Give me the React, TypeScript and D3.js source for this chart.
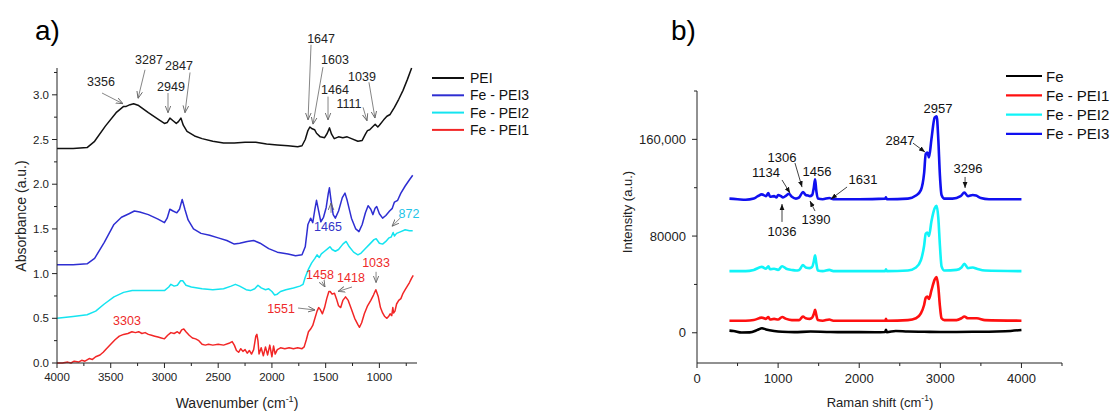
import * as d3 from "d3";

type Pt = [number, number];

// ---- panel a: FTIR (wavenumber cm-1, absorbance) ----
const FTIR_PEI: Pt[] = [
  [4000, 2.4], [3850, 2.4], [3720, 2.41], [3650, 2.48], [3550, 2.65], [3450, 2.8], [3380, 2.87], [3356, 2.87],
  [3320, 2.89], [3287, 2.9], [3240, 2.88], [3150, 2.8], [3050, 2.72], [3000, 2.68], [2975, 2.69], [2949, 2.74],
  [2920, 2.71], [2890, 2.68], [2870, 2.7], [2847, 2.74], [2825, 2.66], [2790, 2.59], [2720, 2.54], [2650, 2.51],
  [2550, 2.48], [2450, 2.46], [2350, 2.46], [2250, 2.47], [2150, 2.47], [2050, 2.45], [1950, 2.44], [1850, 2.43],
  [1760, 2.42], [1720, 2.43], [1690, 2.5], [1665, 2.6], [1647, 2.64], [1625, 2.62], [1603, 2.61], [1585, 2.57],
  [1550, 2.53], [1510, 2.52], [1485, 2.57], [1464, 2.63], [1445, 2.56], [1420, 2.51], [1380, 2.53], [1340, 2.52],
  [1300, 2.53], [1260, 2.51], [1200, 2.48], [1160, 2.49], [1130, 2.56], [1111, 2.6], [1090, 2.61], [1065, 2.64],
  [1039, 2.67], [1015, 2.64], [1000, 2.66], [960, 2.72], [930, 2.76], [900, 2.78], [860, 2.86], [820, 2.95],
  [780, 3.05], [740, 3.17], [700, 3.3],
];

const FTIR_PEI3: Pt[] = [
  [4000, 1.1], [3850, 1.1], [3720, 1.11], [3650, 1.17], [3560, 1.35], [3470, 1.55], [3400, 1.63], [3330, 1.67],
  [3280, 1.7], [3230, 1.69], [3150, 1.66], [3060, 1.61], [3000, 1.57], [2975, 1.62], [2950, 1.72], [2920, 1.7],
  [2885, 1.68], [2860, 1.72], [2835, 1.83], [2810, 1.72], [2780, 1.6], [2730, 1.5], [2660, 1.45], [2580, 1.43],
  [2500, 1.4], [2420, 1.37], [2350, 1.33], [2300, 1.34], [2230, 1.36], [2170, 1.37], [2110, 1.34], [2030, 1.28],
  [1950, 1.24], [1850, 1.22], [1780, 1.2], [1720, 1.21], [1690, 1.3], [1665, 1.55], [1640, 1.62], [1620, 1.57],
  [1600, 1.72], [1585, 1.82], [1565, 1.7], [1545, 1.58], [1520, 1.63], [1495, 1.74], [1475, 1.9], [1465, 1.96],
  [1450, 1.82], [1430, 1.66], [1410, 1.62], [1380, 1.7], [1345, 1.85], [1320, 1.9], [1300, 1.82], [1260, 1.62],
  [1220, 1.5], [1190, 1.47], [1160, 1.55], [1130, 1.68], [1105, 1.76], [1080, 1.72], [1060, 1.66], [1040, 1.73],
  [1025, 1.75], [1000, 1.67], [970, 1.62], [940, 1.65], [905, 1.7], [880, 1.73], [860, 1.8], [830, 1.82],
  [800, 1.9], [760, 1.98], [720, 2.05], [690, 2.1],
];

const FTIR_PEI2: Pt[] = [
  [4000, 0.5], [3850, 0.52], [3720, 0.54], [3640, 0.58], [3560, 0.66], [3470, 0.74], [3380, 0.79], [3300, 0.81],
  [3150, 0.81], [3050, 0.81], [3000, 0.81], [2960, 0.85], [2940, 0.88], [2910, 0.86], [2880, 0.87], [2850, 0.92],
  [2830, 0.92], [2800, 0.87], [2750, 0.85], [2650, 0.83], [2550, 0.82], [2450, 0.83], [2380, 0.86], [2340, 0.88],
  [2300, 0.86], [2240, 0.82], [2200, 0.81], [2160, 0.83], [2130, 0.87], [2100, 0.84], [2060, 0.82], [2030, 0.83],
  [2000, 0.8], [1975, 0.76], [1950, 0.77], [1920, 0.8], [1870, 0.82], [1800, 0.84], [1740, 0.86], [1710, 0.88],
  [1690, 0.96], [1660, 1.05], [1630, 1.12], [1600, 1.17], [1580, 1.21], [1560, 1.18], [1540, 1.22], [1510, 1.25],
  [1480, 1.28], [1460, 1.3], [1440, 1.27], [1410, 1.25], [1380, 1.27], [1340, 1.33], [1310, 1.36], [1280, 1.3],
  [1240, 1.24], [1200, 1.21], [1170, 1.23], [1130, 1.28], [1090, 1.33], [1050, 1.38], [1030, 1.39], [1000, 1.34],
  [970, 1.33], [940, 1.36], [910, 1.4], [890, 1.41], [872, 1.46], [860, 1.42], [840, 1.45], [800, 1.47],
  [760, 1.49], [720, 1.48], [690, 1.48],
];

const FTIR_PEI1: Pt[] = [
  [4000, 0.0], [3950, 0.0], [3900, 0.01], [3870, 0.0], [3840, 0.02], [3800, 0.01], [3770, 0.03], [3740, 0.02],
  [3700, 0.05], [3670, 0.04], [3640, 0.07], [3600, 0.09], [3570, 0.12], [3540, 0.16], [3500, 0.21], [3460, 0.26],
  [3420, 0.3], [3380, 0.32], [3340, 0.33], [3303, 0.35], [3270, 0.34], [3240, 0.35], [3210, 0.33], [3180, 0.34],
  [3150, 0.32], [3120, 0.31], [3090, 0.3], [3060, 0.29], [3030, 0.28], [3000, 0.27], [2970, 0.31], [2940, 0.34],
  [2910, 0.33], [2880, 0.35], [2860, 0.33], [2840, 0.37], [2820, 0.38], [2800, 0.35], [2770, 0.31], [2740, 0.28],
  [2710, 0.27], [2680, 0.25], [2650, 0.21], [2620, 0.2], [2590, 0.21], [2550, 0.2], [2500, 0.21], [2450, 0.2],
  [2400, 0.22], [2370, 0.24], [2350, 0.2], [2330, 0.14], [2310, 0.12], [2290, 0.16], [2270, 0.13], [2250, 0.15],
  [2230, 0.11], [2210, 0.14], [2190, 0.1], [2170, 0.15], [2150, 0.3], [2140, 0.32], [2130, 0.25], [2120, 0.1],
  [2100, 0.17], [2080, 0.08], [2060, 0.18], [2040, 0.09], [2020, 0.2], [2000, 0.07], [1985, 0.19], [1970, 0.1],
  [1950, 0.15], [1920, 0.17], [1880, 0.16], [1840, 0.17], [1800, 0.16], [1760, 0.17], [1720, 0.16], [1700, 0.18],
  [1680, 0.26], [1660, 0.35], [1640, 0.38], [1620, 0.42], [1600, 0.5], [1580, 0.58], [1565, 0.62], [1551, 0.6],
  [1530, 0.55], [1510, 0.62], [1490, 0.72], [1470, 0.8], [1458, 0.8], [1440, 0.77], [1418, 0.78], [1400, 0.72],
  [1380, 0.64], [1360, 0.62], [1340, 0.7], [1315, 0.74], [1290, 0.7], [1260, 0.6], [1230, 0.5], [1200, 0.43],
  [1185, 0.4], [1165, 0.45], [1140, 0.55], [1110, 0.64], [1080, 0.7], [1055, 0.76], [1033, 0.82], [1010, 0.74],
  [990, 0.62], [970, 0.56], [950, 0.52], [930, 0.5], [915, 0.52], [900, 0.55], [885, 0.53], [875, 0.62],
  [868, 0.56], [855, 0.58], [840, 0.66], [820, 0.7], [800, 0.72], [780, 0.78], [760, 0.82], [740, 0.86],
  [720, 0.9], [700, 0.95], [685, 0.98],
];

const FTIR_SERIES = [
  { name: "PEI", color: "#111111", data: FTIR_PEI },
  { name: "Fe - PEI3", color: "#2e2ed2", data: FTIR_PEI3 },
  { name: "Fe - PEI2", color: "#14e4f0", data: FTIR_PEI2 },
  { name: "Fe - PEI1", color: "#f22626", data: FTIR_PEI1 },
];

// label text at a data point, optional arrow from -> to (data coords)
type Note = { text: string; at: Pt; color: string; from?: Pt; to?: Pt };
const FTIR_NOTES: Note[] = [
  { text: "3356", at: [3591, 3.14], color: "#222", from: [3581, 3.02], to: [3386, 2.9] },
  { text: "3287", at: [3144, 3.39], color: "#222", from: [3181, 3.28], to: [3246, 2.96] },
  { text: "2949", at: [2939, 3.09], color: "#222", from: [2967, 3.02], to: [2967, 2.8] },
  { text: "2847", at: [2865, 3.32], color: "#222", from: [2762, 3.25], to: [2809, 2.8] },
  { text: "1647", at: [1543, 3.62], color: "#222", from: [1636, 3.56], to: [1664, 2.72] },
  { text: "1603", at: [1413, 3.39], color: "#222", from: [1525, 3.31], to: [1618, 2.67] },
  { text: "1464", at: [1413, 3.05], color: "#222", from: [1478, 2.98], to: [1478, 2.72] },
  { text: "1111", at: [1283, 2.9], color: "#222", from: [1152, 2.86], to: [1115, 2.71] },
  { text: "1039", at: [1162, 3.2], color: "#222", from: [1097, 3.14], to: [1041, 2.74] },
  { text: "1465", at: [1478, 1.52], color: "#3535c8", from: [1450, 1.68], to: [1450, 1.79] },
  { text: "872", at: [724, 1.67], color: "#22c4e8", from: [808, 1.62], to: [882, 1.53] },
  { text: "1458", at: [1553, 0.98], color: "#ee2a2a", from: [1534, 0.91], to: [1506, 0.85] },
  { text: "1418", at: [1264, 0.95], color: "#ee2a2a", from: [1255, 0.85], to: [1385, 0.8] },
  { text: "1033", at: [1031, 1.12], color: "#ee2a2a", from: [1031, 1.02], to: [1031, 0.9] },
  { text: "1551", at: [1915, 0.6], color: "#ee2a2a", from: [1757, 0.615], to: [1599, 0.593] },
  { text: "3303", at: [3349, 0.47], color: "#ee2a2a" },
];

const FTIR_X_MAJOR = [4000, 3500, 3000, 2500, 2000, 1500, 1000];
const FTIR_X_MINOR = [3750, 3250, 2750, 2250, 1750, 1250, 750];
const FTIR_Y_MAJOR = [0, 0.5, 1, 1.5, 2, 2.5, 3];
const FTIR_Y_MINOR = [0.25, 0.75, 1.25, 1.75, 2.25, 2.75, 3.25];

// ---- panel b: Raman (shift cm-1, intensity) ----
const RAMAN_FE: Pt[] = [
  [400, 1800], [450, 1500], [550, 200], [650, 300], [750, 2500], [800, 3800], [850, 2800], [950, 1500],
  [1050, 800], [1200, 500], [1400, 1000], [1600, 700], [1800, 500], [2000, 500], [2200, 400], [2320, 600],
  [2330, 2500], [2340, 500], [2450, 1500], [2600, 1000], [2800, 800], [3000, 600], [3200, 700], [3400, 800],
  [3600, 800], [3800, 1200], [4000, 2300],
];

const RAMAN_PEI1: Pt[] = [
  [400, 10000], [600, 10000], [700, 10500], [800, 12500], [850, 11500], [880, 13000], [900, 11000], [950, 11500],
  [1000, 11000], [1050, 13000], [1100, 11500], [1170, 10500], [1260, 10500], [1306, 13500], [1340, 12000],
  [1390, 11500], [1420, 12500], [1440, 15500], [1456, 19000], [1470, 15000], [1490, 10500], [1550, 10000],
  [1631, 11000], [1680, 10000], [2000, 10000], [2320, 10000], [2330, 11500], [2340, 10000], [2600, 10500],
  [2700, 12000], [2760, 16000], [2800, 23000], [2820, 29000], [2840, 30000], [2860, 28000], [2890, 35000],
  [2930, 44000], [2955, 46000], [2975, 38000], [2995, 22000], [3015, 12000], [3050, 10500], [3200, 10500],
  [3260, 12000], [3296, 13500], [3340, 12000], [3450, 12000], [3550, 10500], [4000, 10000],
];

const RAMAN_PEI2: Pt[] = [
  [400, 51000], [600, 51000], [700, 52000], [800, 54500], [850, 53000], [880, 55000], [900, 52500], [950, 53000],
  [1000, 52000], [1050, 55000], [1100, 53000], [1170, 52000], [1220, 51500], [1260, 52000], [1306, 56000],
  [1340, 54000], [1390, 53500], [1420, 54500], [1440, 59000], [1456, 64000], [1470, 58000], [1490, 51500],
  [1550, 51000], [1631, 52000], [1680, 51000], [2000, 51000], [2320, 51000], [2330, 52500], [2340, 51000],
  [2600, 51500], [2700, 54000], [2760, 60000], [2800, 72000], [2820, 82000], [2840, 83000], [2860, 80000],
  [2890, 92000], [2930, 103000], [2955, 105000], [2975, 95000], [2995, 72000], [3015, 55000], [3050, 51500],
  [3200, 52000], [3260, 54000], [3296, 57000], [3340, 53500], [3400, 54000], [3450, 53000], [3550, 51500],
  [4000, 51000],
];

const RAMAN_PEI3: Pt[] = [
  [400, 111000], [500, 110500], [600, 110000], [700, 111000], [750, 113000], [800, 114500], [850, 113000],
  [880, 115500], [900, 112500], [950, 113000], [980, 112000], [1000, 114000], [1036, 113000], [1060, 112000],
  [1100, 113500], [1134, 115000], [1170, 112500], [1220, 111000], [1260, 112000], [1306, 116500], [1340, 114000],
  [1370, 113500], [1390, 113000], [1420, 114000], [1440, 120000], [1456, 127000], [1470, 118000], [1490, 111000],
  [1550, 110500], [1631, 111500], [1680, 110500], [2000, 110500], [2320, 111000], [2330, 112000], [2340, 110500],
  [2600, 111000], [2700, 113500], [2760, 118000], [2800, 132000], [2820, 148000], [2840, 149000], [2860, 145000],
  [2890, 160000], [2930, 178000], [2955, 179000], [2975, 160000], [2995, 130000], [3015, 114000], [3050, 111000],
  [3150, 111000], [3250, 113000], [3296, 116000], [3340, 113000], [3400, 114000], [3440, 113500], [3500, 111500],
  [3600, 110500], [4000, 110500],
];

const RAMAN_SERIES = [
  { name: "Fe", color: "#000000", data: RAMAN_FE },
  { name: "Fe - PEI1", color: "#ff1010", data: RAMAN_PEI1 },
  { name: "Fe - PEI2", color: "#10f4f8", data: RAMAN_PEI2 },
  { name: "Fe - PEI3", color: "#1010f0", data: RAMAN_PEI3 },
];

const RAMAN_NOTES: Note[] = [
  { text: "1134", at: [851, 132200], color: "#111", from: [1048, 126400], to: [1147, 115600] },
  { text: "1306", at: [1048, 145400], color: "#111", from: [1208, 140400], to: [1295, 120500] },
  { text: "1456", at: [1480, 133000], color: "#111" },
  { text: "1036", at: [1048, 83400], color: "#111", from: [1048, 91700], to: [1048, 106500] },
  { text: "1390", at: [1467, 94100], color: "#111", from: [1455, 100700], to: [1393, 109000] },
  { text: "1631", at: [2047, 127200], color: "#111", from: [1850, 120600], to: [1652, 110700] },
  { text: "2847", at: [2503, 159400], color: "#111", from: [2663, 156900], to: [2811, 149500] },
  { text: "2957", at: [2972, 185900], color: "#111" },
  { text: "3296", at: [3342, 135500], color: "#111", from: [3305, 128900], to: [3305, 119800] },
];

const RAMAN_X_MAJOR = [0, 1000, 2000, 3000, 4000];
const RAMAN_X_MINOR = [500, 1500, 2500, 3500, 4500];
const RAMAN_Y_MAJOR = [0, 80000, 160000];
const RAMAN_Y_LABELS = ["0", "80000", "160,000"];
const RAMAN_Y_MINOR = [40000, 120000, 200000];

const FONT = "'Liberation Sans', Arial, sans-serif";

function Notes({ notes, x, y, marker, size }: {
  notes: Note[]; x: d3.ScaleLinear<number, number>; y: d3.ScaleLinear<number, number>; marker: string; size: number;
}) {
  return (
    <g fontFamily={FONT} fontSize={size}>
      {notes.map((n) => (
        <g key={n.text + n.at[0]}>
          <text x={x(n.at[0])} y={y(n.at[1])} fill={n.color} textAnchor="middle" dominantBaseline="central">
            {n.text}
          </text>
          {n.from && n.to && (
            <line
              x1={x(n.from[0])} y1={y(n.from[1])} x2={x(n.to[0])} y2={y(n.to[1])}
              stroke={marker === "arrA" ? "#666" : "#111"} strokeWidth={0.8} markerEnd={`url(#${marker})`}
            />
          )}
        </g>
      ))}
    </g>
  );
}

function FtirPanel() {
  const x = d3.scaleLinear().domain([4000, 650]).range([57, 417]);
  const y = d3.scaleLinear().domain([0, 3.3]).range([363, 68]);
  const line = d3.line<Pt>().x((d) => x(d[0])).y((d) => y(d[1]));
  const [x0, x1] = x.range();
  const [y0, y1] = y.range();
  return (
    <g>
      <text x={35} y={40} fontFamily={FONT} fontSize={28}>a)</text>
      {FTIR_SERIES.map((s) => (
        <path key={s.name} d={line(s.data) ?? ""} fill="none" stroke={s.color} strokeWidth={1.5} strokeLinejoin="round" />
      ))}
      <g stroke="#222" strokeWidth={1}>
        <line x1={x0} x2={x1} y1={y0} y2={y0} />
        <line x1={x0} x2={x0} y1={y0} y2={y1} />
        {FTIR_X_MAJOR.map((t) => <line key={t} x1={x(t)} x2={x(t)} y1={y0} y2={y0 + 5} />)}
        {FTIR_X_MINOR.map((t) => <line key={t} x1={x(t)} x2={x(t)} y1={y0} y2={y0 + 3} />)}
        {FTIR_Y_MAJOR.map((t) => <line key={t} x1={x0 - 5} x2={x0} y1={y(t)} y2={y(t)} />)}
        {FTIR_Y_MINOR.map((t) => <line key={t} x1={x0 - 3} x2={x0} y1={y(t)} y2={y(t)} />)}
      </g>
      <g fontFamily={FONT} fontSize={11.5} fill="#222">
        {FTIR_X_MAJOR.map((t) => (
          <text key={t} x={x(t)} y={y0 + 18} textAnchor="middle">{t}</text>
        ))}
        {FTIR_Y_MAJOR.map((t) => (
          <text key={t} x={x0 - 8} y={y(t)} textAnchor="end" dominantBaseline="central">{d3.format(".1f")(t)}</text>
        ))}
      </g>
      <text x={(x0 + x1) / 2} y={408} textAnchor="middle" fontFamily={FONT} fontSize={14} fill="#222">
        Wavenumber (cm<tspan dy={-6} fontSize={9}>-1</tspan><tspan dy={6}>)</tspan>
      </text>
      <text transform={`translate(21,216) rotate(-90)`} textAnchor="middle" dominantBaseline="central"
        fontFamily={FONT} fontSize={14} fill="#222">Absorbance (a.u.)</text>
      <Notes notes={FTIR_NOTES} x={x} y={y} marker="arrA" size={12.5} />
      <g fontFamily={FONT} fontSize={14}>
        {FTIR_SERIES.map((s, i) => (
          <g key={s.name} transform={`translate(432,${78 + i * 17.3})`}>
            <line x1={0} x2={32} y1={0} y2={0} stroke={s.color} strokeWidth={2} />
            <text x={38} y={0} dominantBaseline="central" fill="#111">{s.name}</text>
          </g>
        ))}
      </g>
    </g>
  );
}

function RamanPanel() {
  const x = d3.scaleLinear().domain([0, 4500]).range([697, 1062]);
  const y = d3.scaleLinear().domain([-25000, 200000]).range([363, 91]);
  const line = d3.line<Pt>().x((d) => x(d[0])).y((d) => y(d[1])).curve(d3.curveMonotoneX);
  const [x0, x1] = x.range();
  const [y0, y1] = y.range();
  return (
    <g>
      <text x={671} y={40} fontFamily={FONT} fontSize={28}>b)</text>
      {RAMAN_SERIES.map((s) => (
        <path key={s.name} d={line(s.data) ?? ""} fill="none" stroke={s.color} strokeWidth={2.6} strokeLinejoin="round" />
      ))}
      <g stroke="#222" strokeWidth={1}>
        <line x1={x0} x2={x1} y1={y0} y2={y0} />
        <line x1={x0} x2={x0} y1={y0} y2={y1} />
        {RAMAN_X_MAJOR.map((t) => <line key={t} x1={x(t)} x2={x(t)} y1={y0} y2={y0 + 5} />)}
        {RAMAN_X_MINOR.map((t) => <line key={t} x1={x(t)} x2={x(t)} y1={y0} y2={y0 + 3} />)}
        {RAMAN_Y_MAJOR.map((t) => <line key={t} x1={x0 - 5} x2={x0} y1={y(t)} y2={y(t)} />)}
        {RAMAN_Y_MINOR.map((t) => <line key={t} x1={x0 - 3} x2={x0} y1={y(t)} y2={y(t)} />)}
      </g>
      <g fontFamily={FONT} fontSize={13} fill="#222">
        {RAMAN_X_MAJOR.map((t) => (
          <text key={t} x={x(t)} y={y0 + 20} textAnchor="middle">{t}</text>
        ))}
        {RAMAN_Y_MAJOR.map((t, i) => (
          <text key={t} x={x0 - 11} y={y(t)} textAnchor="end" dominantBaseline="central">{RAMAN_Y_LABELS[i]}</text>
        ))}
      </g>
      <text x={880} y={407} textAnchor="middle" fontFamily={FONT} fontSize={13} fill="#222">
        Raman shift (cm<tspan dy={-6} fontSize={8.5}>-1</tspan><tspan dy={6}>)</tspan>
      </text>
      <text transform={`translate(627,212) rotate(-90)`} textAnchor="middle" dominantBaseline="central"
        fontFamily={FONT} fontSize={13} fill="#222">Intensity (a.u.)</text>
      <Notes notes={RAMAN_NOTES} x={x} y={y} marker="arrB" size={13} />
      <g fontFamily={FONT} fontSize={15}>
        {RAMAN_SERIES.map((s, i) => (
          <g key={s.name} transform={`translate(1006,${76 + i * 19.3})`}>
            <line x1={0} x2={36} y1={0} y2={0} stroke={s.color} strokeWidth={2.2} />
            <text x={40} y={0} dominantBaseline="central" fill="#111">{s.name}</text>
          </g>
        ))}
      </g>
    </g>
  );
}

export default function App() {
  return (
    <svg width={1115} height={412} style={{ position: "absolute", left: 0, top: 0, background: "#fff" }}>
      <defs>
        <marker id="arrA" viewBox="0 0 10 10" refX={10} refY={5} markerWidth={7} markerHeight={7} orient="auto" markerUnits="userSpaceOnUse">
          <path d="M0,1 L10,5 L0,9" fill="none" stroke="#666" strokeWidth={1.3} />
        </marker>
        <marker id="arrB" viewBox="0 0 10 10" refX={10} refY={5} markerWidth={6} markerHeight={6} orient="auto" markerUnits="userSpaceOnUse">
          <path d="M0,1 L10,5 L0,9 Z" fill="#111" />
        </marker>
      </defs>
      <rect width={1115} height={412} fill="#fff" />
      <FtirPanel />
      <RamanPanel />
    </svg>
  );
}
